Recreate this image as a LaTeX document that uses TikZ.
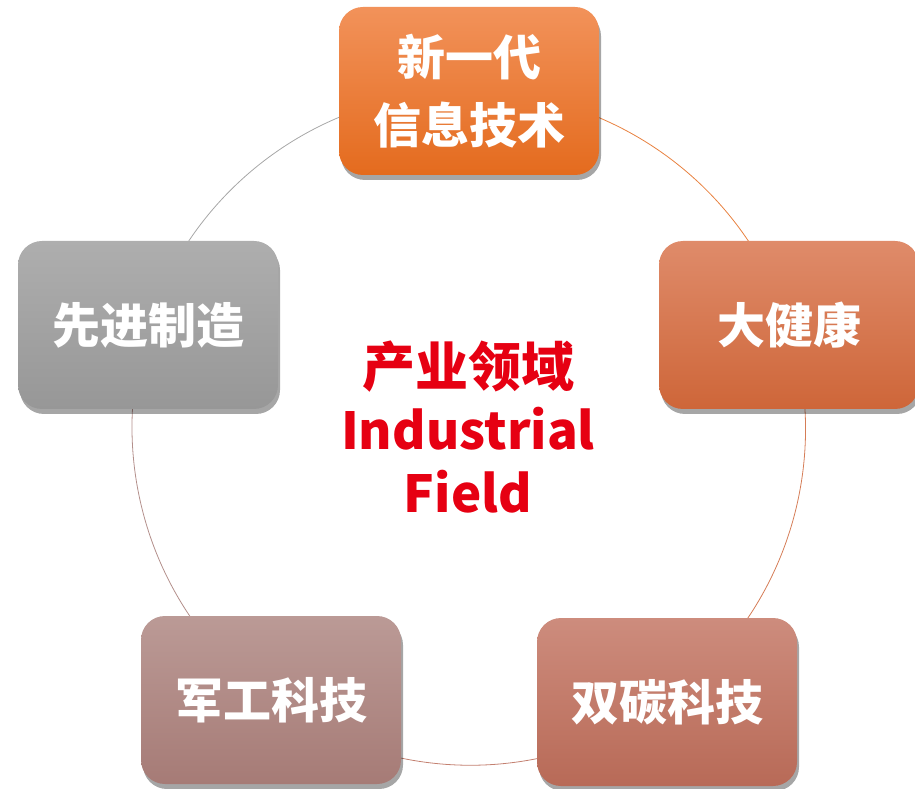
\documentclass[tikz,border=0pt]{standalone}
\usepackage{fontspec}
\newfontfamily\cjk{Noto Sans CJK SC}
\usetikzlibrary{shadows,backgrounds}
\definecolor{infoA}{HTML}{F2925A}
\definecolor{infoB}{HTML}{E46B1E}
\definecolor{healthA}{HTML}{DF8B6A}
\definecolor{healthB}{HTML}{CE6639}
\definecolor{carbonA}{HTML}{CD8C7D}
\definecolor{carbonB}{HTML}{B86A57}
\definecolor{militaryA}{HTML}{BB9A96}
\definecolor{militaryB}{HTML}{A67B76}
\definecolor{manufA}{HTML}{AEAEAE}
\definecolor{manufB}{HTML}{979797}
\definecolor{fieldred}{HTML}{E60012}

\begin{document}
\begin{tikzpicture}[x=1pt,y=1pt,
  field/.style={rounded corners=24pt,minimum width=260pt,minimum height=168pt,
    text=white,align=center,font=\cjk\bfseries\fontsize{48pt}{68pt}\selectfont,
    drop shadow={shadow xshift=2pt,shadow yshift=-5pt,opacity=.35,fill=black}},
  ring/.style={line width=.8pt,bend left=36,looseness=.94},
  hub/.style={text=fieldred,align=center,font=\cjk\bfseries\fontsize{51pt}{63pt}\selectfont}
]
\useasboundingbox (0,0) rectangle (915,788);
\node[field,top color=infoA,bottom color=infoB] (info) at (469,697) {新一代\\信息技术};
\node[field,top color=healthA,bottom color=healthB] (health) at (789,463) {大健康};
\node[field,top color=carbonA,bottom color=carbonB] (carbon) at (667,86) {双碳科技};
\node[field,top color=militaryA,bottom color=militaryB] (military) at (271,88) {军工科技};
\node[field,top color=manufA,bottom color=manufB] (manuf) at (148,463) {先进制造};
\node[hub] (core) at (468,361) {{\fontsize{53pt}{63pt}\selectfont 产业领域}\\Industrial\\Field};
\begin{scope}[on background layer]
\draw[ring,draw=infoB!85] (info.center) to (health.center);
\draw[ring,draw=healthB!85] (health.center) to (carbon.center);
\draw[ring,draw=carbonB!85] (carbon.center) to (military.center);
\draw[ring,draw=militaryB!85] (military.center) to (manuf.center);
\draw[ring,draw=manufB!85] (manuf.center) to (info.center);
\end{scope}
\end{tikzpicture}
\end{document}
